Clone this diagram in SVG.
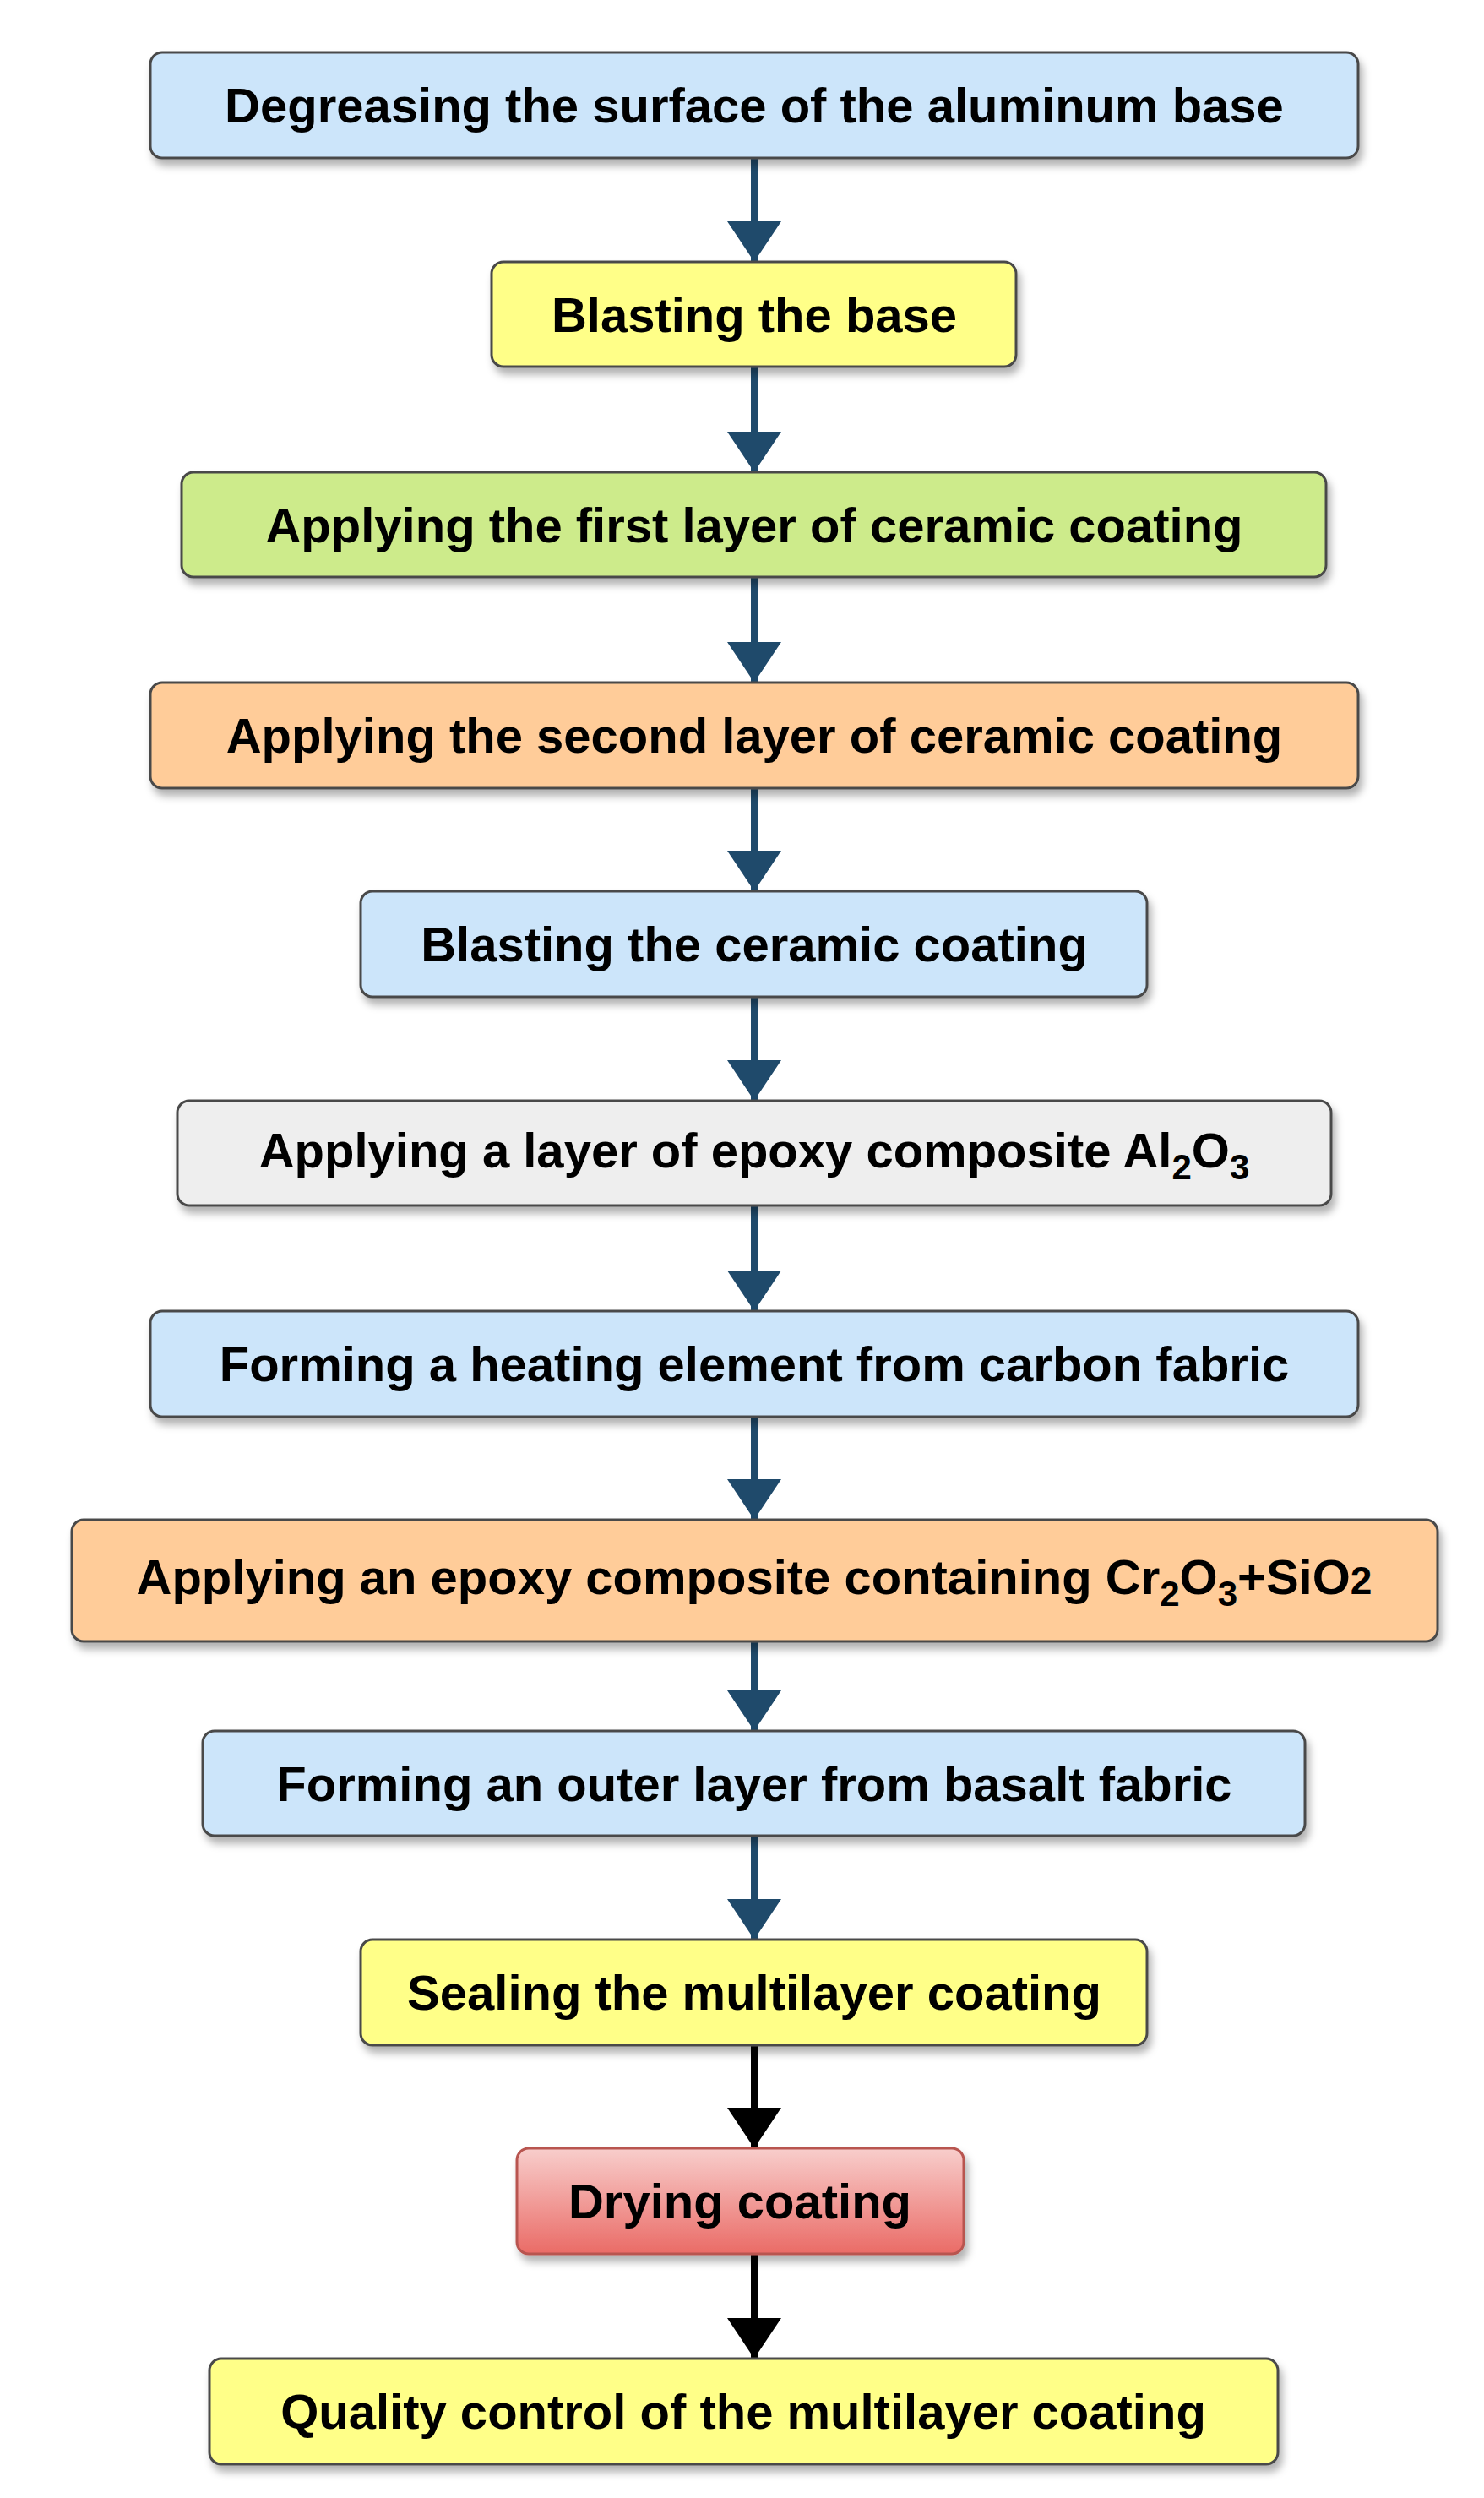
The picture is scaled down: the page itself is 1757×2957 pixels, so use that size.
<svg xmlns="http://www.w3.org/2000/svg" width="1757" height="2957" viewBox="0 0 1757 2957">
<style>
.b{stroke:#4a4a4a;stroke-width:3;filter:url(#sh)}
.t{font-family:"Liberation Sans",Arial,sans-serif;font-weight:bold;font-size:58px;text-anchor:middle;fill:#000}
.c{stroke:#1f4a6b;stroke-width:8;fill:none;marker-end:url(#ab)}
.k{stroke:#000;stroke-width:8;fill:none;marker-end:url(#ak)}
</style>
<defs>
<filter id="sh" x="-5%" y="-20%" width="110%" height="150%"><feDropShadow dx="4" dy="8" stdDeviation="5" flood-color="#000" flood-opacity="0.3"/></filter>
<marker id="ab" markerWidth="6" markerHeight="8" refX="6" refY="4" orient="auto" markerUnits="strokeWidth" viewBox="0 0 6 8"><path d="M0,0 L6,4 L0,8 Z" fill="#1f4a6b"/></marker>
<marker id="ak" markerWidth="6" markerHeight="8" refX="6" refY="4" orient="auto" markerUnits="strokeWidth" viewBox="0 0 6 8"><path d="M0,0 L6,4 L0,8 Z" fill="#000"/></marker>
<linearGradient id="rg" x1="0" y1="0" x2="0" y2="1"><stop offset="0" stop-color="#f8cecc"/><stop offset="1" stop-color="#ea6b66"/></linearGradient>
</defs>
<g id="connectors">
<line class="c" x1="893" y1="187" x2="893" y2="310"/>
<line class="c" x1="893" y1="434" x2="893" y2="559"/>
<line class="c" x1="893" y1="683" x2="893" y2="808"/>
<line class="c" x1="893" y1="933" x2="893" y2="1055"/>
<line class="c" x1="893" y1="1180" x2="893" y2="1303"/>
<line class="c" x1="893" y1="1427" x2="893" y2="1552"/>
<line class="c" x1="893" y1="1677" x2="893" y2="1799"/>
<line class="c" x1="893" y1="1943" x2="893" y2="2049"/>
<line class="c" x1="893" y1="2173" x2="893" y2="2296"/>
<line class="k" x1="893" y1="2421" x2="893" y2="2543"/>
<line class="k" x1="893" y1="2668" x2="893" y2="2792"/>
</g>
<g id="n1"><rect class="b" x="178" y="62" width="1430" height="125" rx="14" fill="#cce5fa"/><text class="t" x="893" y="145">Degreasing the surface of the aluminum base</text></g>
<g id="n2"><rect class="b" x="582" y="310" width="621" height="124" rx="14" fill="#ffff88"/><text class="t" x="893" y="393">Blasting the base</text></g>
<g id="n3"><rect class="b" x="215" y="559" width="1355" height="124" rx="14" fill="#cdeb8b"/><text class="t" x="893" y="642">Applying the first layer of ceramic coating</text></g>
<g id="n4"><rect class="b" x="178" y="808" width="1430" height="125" rx="14" fill="#ffcc99"/><text class="t" x="893" y="891">Applying the second layer of ceramic coating</text></g>
<g id="n5"><rect class="b" x="427" y="1055" width="931" height="125" rx="14" fill="#cce5fa"/><text class="t" x="893" y="1138">Blasting the ceramic coating</text></g>
<g id="n6"><rect class="b" x="210" y="1303" width="1366" height="124" rx="14" fill="#eeeeee"/><text class="t" x="893" y="1382">Applying a layer of epoxy composite Al<tspan font-size="42" dy="14">2</tspan><tspan dy="-14">O</tspan><tspan font-size="42" dy="14">3</tspan></text></g>
<g id="n7"><rect class="b" x="178" y="1552" width="1430" height="125" rx="14" fill="#cce5fa"/><text class="t" x="893" y="1635">Forming a heating element from carbon fabric</text></g>
<g id="n8"><rect class="b" x="85" y="1799" width="1617" height="144" rx="14" fill="#ffcc99"/><text class="t" x="893" y="1887">Applying an epoxy composite containing Cr<tspan font-size="42" dy="14">2</tspan><tspan dy="-14">O</tspan><tspan font-size="42" dy="14">3</tspan><tspan dy="-14">+SiO</tspan><tspan font-size="46">2</tspan></text></g>
<g id="n9"><rect class="b" x="240" y="2049" width="1305" height="124" rx="14" fill="#cce5fa"/><text class="t" x="893" y="2132">Forming an outer layer from basalt fabric</text></g>
<g id="n10"><rect class="b" x="427" y="2296" width="931" height="125" rx="14" fill="#ffff88"/><text class="t" x="893" y="2379">Sealing the multilayer coating</text></g>
<g id="n11"><rect class="b" x="612" y="2543" width="529" height="125" rx="14" fill="url(#rg)" style="stroke:#b85450"/><text class="t" x="876" y="2626">Drying coating</text></g>
<g id="n12"><rect class="b" x="248" y="2792" width="1265" height="125" rx="14" fill="#ffff88"/><text class="t" x="880" y="2875">Quality control of the multilayer coating</text></g>
</svg>
